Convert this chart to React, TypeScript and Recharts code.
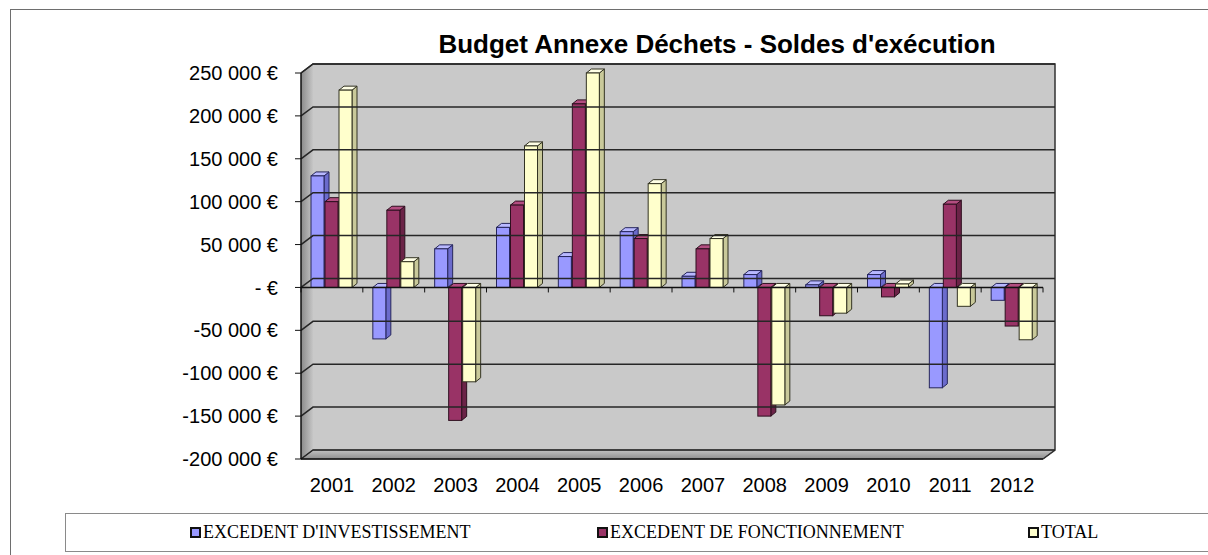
import { BarChart, Bar, XAxis, YAxis, ReferenceArea, ReferenceLine } from "recharts";

const years = ["2001", "2002", "2003", "2004", "2005", "2006", "2007", "2008", "2009", "2010", "2011", "2012"];
const investissement = [130000, -60000, 45000, 70000, 36000, 65000, 13000, 15000, 3000, 15000, -117000, -15000];
const fonctionnement = [100000, 90000, -155000, 96000, 214000, 57000, 45000, -150000, -33000, -11000, 97000, -45000];
const total = [230000, 30000, -110000, 165000, 250000, 121000, 57000, -137000, -30000, 4000, -22000, -61000];
const yTicks = [-200000, -150000, -100000, -50000, 0, 50000, 100000, 150000, 200000, 250000];
const seriesNames = ["EXCEDENT D'INVESTISSEMENT", "EXCEDENT DE FONCTIONNEMENT", "TOTAL"];
const title = "Budget Annexe Déchets - Soldes d'exécution";

const data = years.map((year, i) => ({
  year,
  inv: investissement[i],
  fonc: fonctionnement[i],
  total: total[i],
}));

// couleurs façon Excel 2003 : face, dessus, côté
const palette = [
  { fill: "#9999ff", top: "#b8b8ff", side: "#6b6bcc", stroke: "#26265c" },
  { fill: "#993366", top: "#b34d80", side: "#6b2347", stroke: "#2e0f1f" },
  { fill: "#ffffcc", top: "#ffffe6", side: "#c9c99a", stroke: "#333322" },
];
const legendLeft = [190, 597, 1028];

const WALL_DX = 12;
const WALL_DY = -9;
const BAR_DX = 5;
const BAR_DY = -4;

const formatEuro = (v: number) => {
  if (v === 0) return "- €";
  const s = Math.abs(v).toString().replace(/\B(?=(\d{3})+(?!\d))/g, " ");
  return (v < 0 ? "-" : "") + s + " €";
};

const Walls = (p: any) => {
  const { x, y, width: w, height: h } = p;
  const bx = x + WALL_DX;
  const by = y + WALL_DY;
  return (
    <g>
      <defs>
        <linearGradient id="leftWall" x1="0" x2="1" y1="0" y2="0">
          <stop offset="0" stopColor="#8a8a8a" />
          <stop offset="1" stopColor="#c6c6c6" />
        </linearGradient>
        <linearGradient id="floor" x1="0" x2="0" y1="0" y2="1">
          <stop offset="0" stopColor="#c2c2c2" />
          <stop offset="1" stopColor="#8e8e8e" />
        </linearGradient>
      </defs>
      <rect x={bx} y={by} width={w} height={h} fill="#c9c9c9" />
      <polygon
        points={`${x},${y} ${bx},${by} ${bx},${by + h} ${x},${y + h}`}
        fill="url(#leftWall)"
      />
      <polygon
        points={`${x},${y + h} ${bx},${by + h} ${bx + w},${by + h} ${x + w},${y + h}`}
        fill="url(#floor)"
        stroke="#555"
        strokeWidth={1}
      />
      <polyline
        points={`${x},${y} ${bx},${by} ${bx + w},${by} ${bx + w},${by + h} ${x + w},${y + h}`}
        fill="none"
        stroke="#333"
        strokeWidth={1.5}
      />
    </g>
  );
};

const GridLine = (p: any) => {
  const { x1, y1, x2, y2 } = p;
  return (
    <polyline
      points={`${x1},${y1} ${x1 + WALL_DX},${y1 + WALL_DY} ${x2 + WALL_DX},${y2 + WALL_DY}`}
      fill="none"
      stroke="#262626"
      strokeWidth={1.5}
    />
  );
};

const ZeroLine = (p: any) => {
  const { x1, y1, x2 } = p;
  const n = years.length;
  const step = (x2 - x1) / n;
  return (
    <g>
      <polyline
        points={`${x1},${y1} ${x1 + WALL_DX},${y1 + WALL_DY} ${x2 + WALL_DX},${y1 + WALL_DY}`}
        fill="none"
        stroke="#262626"
        strokeWidth={1.5}
      />
      <line x1={x1} y1={y1} x2={x2} y2={y1} stroke="#111" strokeWidth={1.5} />
      {Array.from({ length: n + 1 }, (_, i) => (
        <line key={i} x1={x1 + i * step} y1={y1} x2={x1 + i * step} y2={y1 + 5} stroke="#111" strokeWidth={1} />
      ))}
    </g>
  );
};

const make3DBar = (c: (typeof palette)[number]) => (p: any) => {
  const { x, y, width: w, height } = p;
  if (x == null || y == null) return null;
  const top = height < 0 ? y + height : y;
  const h = Math.abs(height);
  return (
    <g>
      <polygon
        points={`${x + w},${top} ${x + w + BAR_DX},${top + BAR_DY} ${x + w + BAR_DX},${top + h + BAR_DY} ${x + w},${top + h}`}
        fill={c.side}
        stroke={c.stroke}
        strokeWidth={1}
      />
      <polygon
        points={`${x},${top} ${x + BAR_DX},${top + BAR_DY} ${x + w + BAR_DX},${top + BAR_DY} ${x + w},${top}`}
        fill={c.top}
        stroke={c.stroke}
        strokeWidth={1}
      />
      <rect x={x} y={top} width={w} height={h} fill={c.fill} stroke={c.stroke} strokeWidth={1} />
    </g>
  );
};

export default function App() {
  return (
    <div
      style={{
        position: "absolute",
        left: 0,
        top: 0,
        width: 1208,
        height: 555,
        overflow: "hidden",
        background: "#fff",
        fontFamily: "'Liberation Sans', Arial, sans-serif",
      }}
    >
      <div
        style={{
          position: "absolute",
          left: 10,
          top: 9,
          width: 1300,
          height: 700,
          border: "1px solid #6e6e6e",
        }}
      />
      <div
        style={{
          position: "absolute",
          left: 417,
          top: 31,
          width: 600,
          textAlign: "center",
          fontSize: 26,
          lineHeight: "26px",
          fontWeight: "bold",
          whiteSpace: "nowrap",
        }}
      >
        {title}
      </div>
      <div style={{ position: "absolute", left: 0, top: 0 }}>
        <BarChart
          width={1208}
          height={555}
          data={data}
          margin={{ top: 73, right: 165, bottom: 66, left: 221 }}
          barSize={13}
          barGap={1}
        >
          <XAxis
            dataKey="year"
            axisLine={{ stroke: "#111", strokeWidth: 1.5 }}
            tickLine={false}
            tickMargin={13}
            tick={{ fill: "#000", fontSize: 20 }}
            height={30}
          />
          <YAxis
            domain={[-200000, 250000]}
            ticks={yTicks}
            tickFormatter={formatEuro}
            width={80}
            axisLine={{ stroke: "#111", strokeWidth: 1.5 }}
            tickLine={{ stroke: "#111" }}
            tickSize={6}
            tickMargin={17}
            tick={{ fill: "#000", fontSize: 20 }}
          />
          <ReferenceArea y1={-200000} y2={250000} shape={Walls} />
          {yTicks
            .filter((t) => t !== 0)
            .map((t) => (
              <ReferenceLine key={t} y={t} shape={GridLine} />
            ))}
          <ReferenceLine y={0} shape={ZeroLine} />
          <Bar dataKey="inv" name={seriesNames[0]} fill={palette[0].fill} shape={make3DBar(palette[0])} isAnimationActive={false} />
          <Bar dataKey="fonc" name={seriesNames[1]} fill={palette[1].fill} shape={make3DBar(palette[1])} isAnimationActive={false} />
          <Bar dataKey="total" name={seriesNames[2]} fill={palette[2].fill} shape={make3DBar(palette[2])} isAnimationActive={false} />
        </BarChart>
      </div>
      <div
        style={{
          position: "absolute",
          left: 65,
          top: 513,
          width: 1300,
          height: 37,
          border: "1px solid #8a8a8a",
        }}
      />
      {seriesNames.map((name, i) => (
        <div
          key={name}
          style={{
            position: "absolute",
            left: legendLeft[i],
            top: 521,
            height: 22,
            display: "flex",
            alignItems: "center",
            fontFamily: "'Liberation Serif', 'Times New Roman', serif",
            fontSize: 18,
            whiteSpace: "nowrap",
          }}
        >
          <span
            style={{
              display: "inline-block",
              width: 7,
              height: 7,
              border: "2px solid #111",
              background: palette[i].fill,
              marginRight: 2,
            }}
          />
          {name}
        </div>
      ))}
    </div>
  );
}
